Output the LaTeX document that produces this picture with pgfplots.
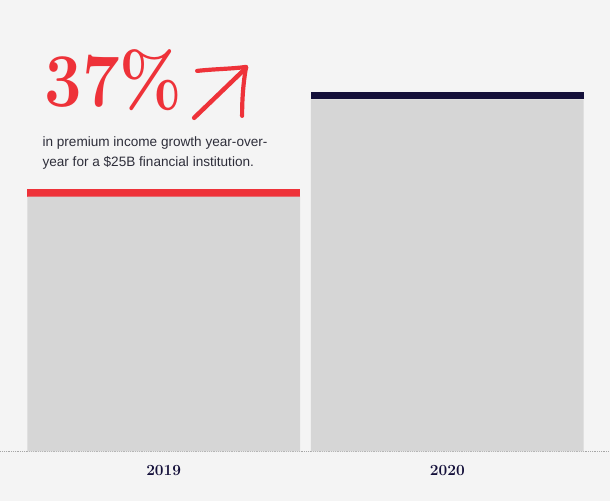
\documentclass[border=0pt]{standalone}
\usepackage{pgfplots}
\pgfplotsset{compat=1.18}
\usepackage{fontspec}
\newfontfamily\bodysans{Liberation Sans}

\definecolor{pagebg}{HTML}{F4F4F4}
\definecolor{bargray}{HTML}{D6D6D6}
\definecolor{capred}{HTML}{EE3239}
\definecolor{capnavy}{HTML}{14103A}
\definecolor{inkdark}{HTML}{2E2E3A}

\begin{document}
\begin{tikzpicture}[x=1pt,y=1pt]
  % page background (axis baseline sits at y=0)
  \fill[pagebg] (0,-50) rectangle (610,452);

  \begin{axis}[
    scale only axis, width=610pt, height=452pt,
    xmin=-0.5757, xmax=1.5722,
    ymin=0, ymax=171.86,
    ybar stacked, bar width=273pt,
    axis y line=none,
    axis x line*=bottom,
    x axis line style={-, draw=gray!70, densely dotted, line width=0.8pt},
    xtick={0,1}, xticklabels={2019,2020},
    major tick length=0pt,
    xticklabel style={font=\bfseries\fontsize{15.5}{17}\selectfont, text=capnavy, yshift=-10pt},
    clip=false,
  ]
    % base of each bar
    \addplot[fill=bargray, draw=none] coordinates {(0,97) (1,134)};
    % coloured caps on top (2019 red, 2020 navy)
    \addplot[fill=capred, draw=none] coordinates {(0,3) (1,0)};
    \addplot[fill=capnavy, draw=none] coordinates {(0,0) (1,3)};
  \end{axis}

  % headline figure
  \node[anchor=base west, inner sep=0pt, text=capred, xscale=0.88,
        font=\bfseries\fontsize{76}{80}\selectfont] at (44,345) {37\%};
  % upward arrow
  \draw[capred, line width=4.5pt, line cap=round] (194,334) -- (246,384);
  \draw[capred, line width=4.2pt, line cap=round, line join=round]
        (197,381) .. controls (215,383) and (232,383) .. (246,385)
        .. controls (243,368) and (242,352) .. (242,336);

  % caption
  \node[anchor=base west, inner sep=0pt, text=inkdark,
        font=\bodysans\fontsize{13.6}{20}\selectfont] at (42,305)
        {in premium income growth year-over-};
  \node[anchor=base west, inner sep=0pt, text=inkdark,
        font=\bodysans\fontsize{13.6}{20}\selectfont] at (42,285)
        {year for a \$25B financial institution.};
\end{tikzpicture}
\end{document}
